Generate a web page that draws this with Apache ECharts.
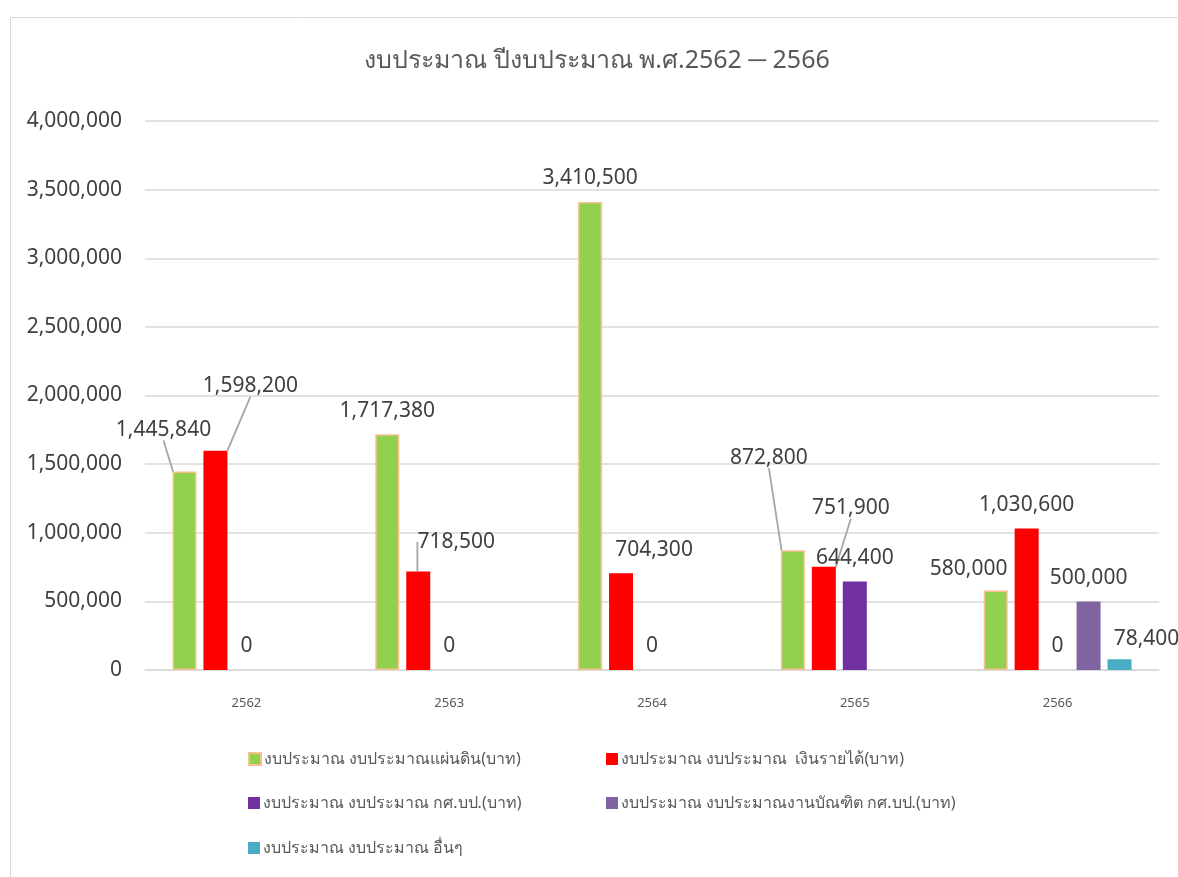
<!DOCTYPE html>
<html>
<head>
<meta charset="utf-8">
<script src="https://cdn.jsdelivr.net/npm/echarts@6/dist/echarts.min.js"></script>
<style>
  html, body { margin: 0; padding: 0; background: #fff; }
  #main { width: 1178px; height: 877px; }
</style>
</head>
<body>
<div id="main"></div>
<script>
var years = ['2562', '2563', '2564', '2565', '2566'];
var seriesNames = [
    'งบประมาณ งบประมาณแผ่นดิน(บาท)',
    'งบประมาณ งบประมาณ  เงินรายได้(บาท)',
    'งบประมาณ งบประมาณ กศ.บป.(บาท)',
    'งบประมาณ งบประมาณงานบัณฑิต กศ.บป.(บาท)',
    'งบประมาณ งบประมาณ อื่นๆ'
];
var landBudget = [1445840, 1717380, 3410500, 872800, 580000];
var incomeBudget = [1598200, 718500, 704300, 751900, 1030600];
var kspBudget = [0, 0, 0, 644400, 0];
var graduateBudget = [null, null, null, null, 500000];
var otherBudget = [null, null, null, null, 78400];
var yTicks = { min: 0, max: 4000000, interval: 500000 };

// label nudges (px) and which labels get a leader line, like the excel chart
var labelShift = [
    [[-21, -18], [0, 0], [0, 0], [-24, -69], [-27, 2]],
    [[35, -41], [38, -6], [33, 0], [27, -35], [0, 0]],
    [[0, 0], [0, 0], [0, 0], [0, 0], [0, 0]],
    [[0, 0], [0, 0], [0, 0], [0, 0], [0, 0]],
    [[0, 0], [0, 0], [0, 0], [0, 0], [27, 3]]
];
var leaderLine = [
    [true, false, false, true, false],
    [true, true, false, true, false],
    [false, false, false, false, false],
    [false, false, false, false, false],
    [false, false, false, false, false]
];
var colors = ['#92d050', '#ff0000', '#7030a0', '#8064a2', '#4bacc6'];
var allData = [landBudget, incomeBudget, kspBudget, graduateBudget, otherBudget];

var font = '"Noto Sans", "Open Sans", sans-serif';

function buildSeries() {
    var res = [];
    for (var s = 0; s < allData.length; s++) {
        var items = [];
        for (var i = 0; i < allData[s].length; i++) {
            items.push({
                value: allData[s][i],
                labelLine: { show: leaderLine[s][i] }
            });
        }
        (function (si) {
            res.push({
                name: seriesNames[si],
                type: 'bar',
                barWidth: 24,
                barGap: '29%',
                data: items,
                itemStyle: si === 0 ? { color: colors[si], borderColor: '#f8c08f', borderWidth: 1.5 } : { color: colors[si] },
                label: {
                    show: true,
                    position: 'top',
                    distance: 13,
                    color: '#404040',
                    fontSize: 21,
                    fontFamily: font,
                    formatter: function (p) {
                        return p.value == null ? '' : Number(p.value).toLocaleString('en-US');
                    }
                },
                labelLine: {
                    show: false,
                    lineStyle: { color: '#a6a6a6', width: 1.8 }
                },
                labelLayout: function (params) {
                    var d = labelShift[si][params.dataIndex];
                    return { dx: d[0], dy: d[1] };
                },
                emphasis: { disabled: true },
                animation: false
            });
        })(s);
    }
    return res;
}

function legendAt(idx, left, top) {
    return {
        data: [seriesNames[idx]],
        left: left,
        top: top,
        padding: 0,
        itemWidth: 12,
        itemHeight: 12,
        icon: 'rect',
        itemGap: 0,
        textStyle: { color: '#595959', fontSize: 16, fontFamily: font, padding: [0, 0, 0, -2] },
        selectedMode: false
    };
}

var myChart = echarts.init(document.getElementById('main'));
var option = {
    backgroundColor: '#fff',
    animation: false,
    title: {
        text: 'งบประมาณ ปีงบประมาณ พ.ศ.2562 ─ 2566',
        left: 592,
        top: 43,
        textAlign: 'center',
        textStyle: { color: '#595959', fontSize: 25, fontWeight: 'normal', fontFamily: font }
    },
    graphic: [{
        type: 'rect',
        left: 8,
        top: 15,
        shape: { width: 1200, height: 900 },
        style: { fill: 'none', stroke: '#d9d9d9', lineWidth: 1 },
        silent: true
    }],
    legend: [
        legendAt(0, 248, 751),
        legendAt(1, 606, 751),
        legendAt(2, 248, 795),
        legendAt(3, 606, 795),
        legendAt(4, 248, 840)
    ],
    grid: { left: 145, right: 19, top: 121, bottom: 207, containLabel: false },
    xAxis: {
        type: 'category',
        data: years,
        axisLine: { lineStyle: { color: '#d9d9d9', width: 1.5 } },
        axisTick: { show: false },
        axisLabel: { color: '#595959', fontSize: 13, fontFamily: font, margin: 27 }
    },
    yAxis: {
        type: 'value',
        min: yTicks.min,
        max: yTicks.max,
        interval: yTicks.interval,
        axisLine: { show: false },
        axisTick: { show: false },
        splitLine: { lineStyle: { color: '#d9d9d9', width: 1.5 } },
        axisLabel: {
            color: '#404040',
            fontSize: 21,
            fontFamily: font,
            margin: 23,
            formatter: function (v) { return v.toLocaleString('en-US'); }
        }
    },
    series: buildSeries()
};
myChart.setOption(option);
</script>
</body>
</html>
